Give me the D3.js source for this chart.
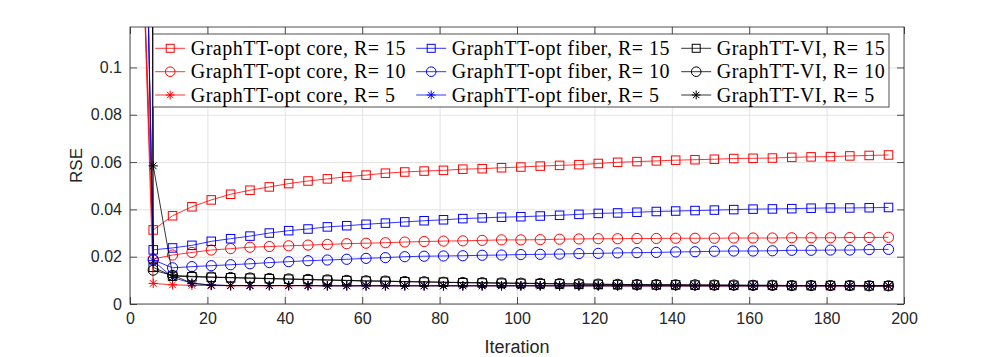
<!DOCTYPE html>
<html><head><meta charset="utf-8">
<script src="https://cdn.jsdelivr.net/npm/d3@7"></script>
<style>
html,body{margin:0;padding:0;background:#fff;}
svg{display:block;}
</style></head>
<body>
<svg id="chart" width="997" height="357"></svg>
<script>
// ---------- data ----------
const iterations = [1,6,11,16,21,26,31,36,41,46,51,56,61,66,71,76,81,86,91,96,101,106,111,116,121,126,131,136,141,146,151,156,161,166,171,176,181,186,191,196];

const coreR15 = [0.25,
 0.0313,0.0373,0.0411,0.0440,0.0464,0.0481,0.0495,0.0509,0.0520,
 0.0529,0.0538,0.0545,0.0553,0.0558,0.0562,0.0565,0.0570,0.0572,0.0576,0.0579,0.0583,0.0586,0.0589,0.0594,
 0.0599,0.0602,0.0605,0.0608,0.0610,0.0612,0.0615,0.0616,0.0617,0.0620,0.0622,0.0623,0.0626,0.0628,0.0630];
const coreR10 = [0.26,
 0.0190,0.0207,0.0218,0.0228,0.0234,0.0240,0.0243,0.0246,0.0249,
 0.0252,0.0255,0.0257,0.0259,0.0262,0.0264,0.0266,0.0267,0.0269,0.0271,0.0271,0.0272,0.0274,0.0275,0.0276,
 0.0276,0.0277,0.0277,0.0278,0.0278,0.0278,0.0279,0.0279,0.0279,0.0280,0.0280,0.0280,0.0281,0.0281,0.0282];
const coreR5 = [0.27,
 0.0087,0.0081,0.0079,0.0078,0.0077,0.0077,0.0077,0.0077,0.0077,
 0.0077,0.0077,0.0077,0.0077,0.0077,0.0077,0.0077,0.0077,0.0077,0.0077,0.0077,0.0077,0.0077,0.0077,0.0077,
 0.0076,0.0076,0.0076,0.0076,0.0076,0.0076,0.0076,0.0076,0.0076,0.0076,0.0076,0.0076,0.0076,0.0076,0.0076];

const fiberR15 = [0.40,
 0.0229,0.0237,0.0248,0.0265,0.0276,0.0287,0.0300,0.0310,0.0317,
 0.0326,0.0331,0.0337,0.0342,0.0347,0.0352,0.0356,0.0361,0.0364,0.0367,0.0369,0.0372,0.0375,0.0379,0.0383,
 0.0385,0.0388,0.0391,0.0393,0.0395,0.0397,0.0399,0.0401,0.0402,0.0403,0.0405,0.0406,0.0406,0.0407,0.0408];
const fiberR10 = [0.42,
 0.0186,0.0153,0.0158,0.0162,0.0166,0.0170,0.0175,0.0179,0.0183,
 0.0186,0.0189,0.0193,0.0196,0.0200,0.0202,0.0203,0.0204,0.0206,0.0207,0.0209,0.0210,0.0211,0.0213,0.0214,
 0.0216,0.0217,0.0218,0.0220,0.0221,0.0223,0.0224,0.0224,0.0225,0.0227,0.0227,0.0228,0.0228,0.0230,0.0231];
const fiberR5 = [0.44,
 0.0183,0.0112,0.0088,0.0080,0.0078,0.0078,0.0078,0.0078,0.0078,
 0.0077,0.0077,0.0077,0.0077,0.0077,0.0077,0.0077,0.0077,0.0077,0.0077,0.0077,0.0077,0.0077,0.0077,0.0077,
 0.0077,0.0077,0.0077,0.0077,0.0077,0.0077,0.0077,0.0077,0.0077,0.0077,0.0077,0.0077,0.0077,0.0077,0.0077];

const viR15 = [3.0,
 0.0155,0.0118,0.0115,0.0113,0.0111,0.0109,0.0107,0.0105,0.0103,
 0.0101,0.0099,0.0097,0.0096,0.0094,0.0093,0.0092,0.0090,0.0089,0.0088,0.0087,0.0086,0.0085,0.0084,0.0083,
 0.0082,0.0082,0.0081,0.0081,0.0080,0.0080,0.0079,0.0079,0.0079,0.0078,0.0078,0.0078,0.0078,0.0077,0.0077];
const viR10 = [3.0,
 0.0143,0.0121,0.0117,0.0114,0.0112,0.0110,0.0108,0.0106,0.0104,
 0.0102,0.0100,0.0098,0.0097,0.0095,0.0094,0.0092,0.0091,0.0090,0.0089,0.0088,0.0087,0.0086,0.0085,0.0084,
 0.0083,0.0082,0.0082,0.0081,0.0081,0.0080,0.0080,0.0079,0.0079,0.0078,0.0078,0.0078,0.0078,0.0077,0.0077];
const viR5 = [3.0,
 0.0584,0.0123,0.0087,0.0080,0.0078,0.0078,0.0078,0.0078,0.0078,
 0.0077,0.0077,0.0077,0.0077,0.0077,0.0077,0.0077,0.0077,0.0077,0.0077,0.0077,0.0077,0.0077,0.0077,0.0077,
 0.0077,0.0077,0.0077,0.0077,0.0077,0.0077,0.0077,0.0077,0.0077,0.0077,0.0077,0.0077,0.0077,0.0077,0.0077];

const seriesNames = ["GraphTT-opt core, R= 15","GraphTT-opt core, R= 10","GraphTT-opt core, R= 5",
  "GraphTT-opt fiber, R= 15","GraphTT-opt fiber, R= 10","GraphTT-opt fiber, R= 5",
  "GraphTT-VI, R= 15","GraphTT-VI, R= 10","GraphTT-VI, R= 5"];
const seriesValues = [coreR15, coreR10, coreR5, fiberR15, fiberR10, fiberR5, viR15, viR10, viR5];
const seriesColors = ["#ff0000","#ff0000","#ff0000","#0000ff","#0000ff","#0000ff","#000000","#000000","#000000"];
const seriesMarkers = ["square","circle","star","square","circle","star","square","circle","star"];

const xTicks = [0,20,40,60,80,100,120,140,160,180,200];
const yTicks = [0,0.02,0.04,0.06,0.08,0.1];
const xLabel = "Iteration";
const yLabel = "RSE";

// ---------- layout ----------
const L = 130, R = 904, T = 27, B = 304;
const axisColor = "#262626";
const svg = d3.select("#chart");

const x = d3.scaleLinear().domain([0,200]).range([L,R]);
const y = d3.scaleLinear().domain([0,0.1171]).range([B,T]);

// grid
svg.append("g").attr("transform",`translate(0,${B})`)
  .call(d3.axisBottom(x).tickValues(xTicks).tickSize(-(B-T)).tickFormat(""))
  .call(g=>{g.select(".domain").remove(); g.selectAll("line").attr("stroke","#e3e3e3").attr("stroke-width",1);});
svg.append("g").attr("transform",`translate(${L},0)`)
  .call(d3.axisLeft(y).tickValues(yTicks).tickSize(-(R-L)).tickFormat(""))
  .call(g=>{g.select(".domain").remove(); g.selectAll("line").attr("stroke","#e3e3e3").attr("stroke-width",1);});

// clip
svg.append("defs").append("clipPath").attr("id","plotclip")
  .append("rect").attr("x",L).attr("y",T).attr("width",R-L).attr("height",B-T);

const plot = svg.append("g").attr("clip-path","url(#plotclip)");

function drawMarker(g, type, color, cx, cy, s){
  if(type==="square"){
    g.append("rect").attr("x",cx-s/2).attr("y",cy-s/2).attr("width",s).attr("height",s)
      .attr("fill","none").attr("stroke",color).attr("stroke-width",1);
  } else if(type==="circle"){
    g.append("circle").attr("cx",cx).attr("cy",cy).attr("r",s*0.6)
      .attr("fill","none").attr("stroke",color).attr("stroke-width",1);
  } else {
    const r = s*0.55, d = r*0.72;
    const p = `M${cx},${cy-r}L${cx},${cy+r}M${cx-r},${cy}L${cx+r},${cy}M${cx-d},${cy-d}L${cx+d},${cy+d}M${cx-d},${cy+d}L${cx+d},${cy-d}`;
    g.append("path").attr("d",p).attr("fill","none").attr("stroke",color).attr("stroke-width",1);
  }
}

const line = d3.line().x((d,i)=>x(iterations[i])).y(d=>y(d));
seriesValues.forEach((vals,k)=>{
  const g = plot.append("g");
  g.append("path").datum(vals).attr("d",line).attr("fill","none")
    .attr("stroke",seriesColors[k]).attr("stroke-width",0.8);
  vals.forEach((v,i)=>{ drawMarker(g, seriesMarkers[k], seriesColors[k], x(iterations[i]), y(v), 8.5); });
});

// axes
const fontTick = "'Liberation Sans', Arial, Helvetica, sans-serif";
const bx = svg.append("g").attr("transform",`translate(0,${B})`)
  .call(d3.axisBottom(x).tickValues(xTicks).tickSize(-7).tickSizeOuter(0).tickPadding(9).tickFormat(d3.format("d")));
const ly = svg.append("g").attr("transform",`translate(${L},0)`)
  .call(d3.axisLeft(y).tickValues(yTicks).tickSize(-7).tickSizeOuter(0).tickPadding(8).tickFormat(d=> d===0?"0":String(+d.toFixed(2))));
const tx = svg.append("g").attr("transform",`translate(0,${T})`)
  .call(d3.axisTop(x).tickValues(xTicks).tickSize(-7).tickSizeOuter(0).tickFormat(""));
const ry = svg.append("g").attr("transform",`translate(${R},0)`)
  .call(d3.axisRight(y).tickValues(yTicks).tickSize(-7).tickSizeOuter(0).tickFormat(""));
[bx,ly,tx,ry].forEach(g=>{
  g.select(".domain").remove();
  g.selectAll("line").attr("stroke",axisColor).attr("stroke-width",0.8);
  g.selectAll("text").attr("fill",axisColor).style("font-family",fontTick).style("font-size","16px");
});
svg.append("rect").attr("x",L).attr("y",T).attr("width",R-L).attr("height",B-T)
  .attr("fill","none").attr("stroke",axisColor).attr("stroke-width",0.8);

svg.append("text").attr("x",(L+R)/2).attr("y",353).attr("text-anchor","middle")
  .attr("fill",axisColor).style("font-family",fontTick).style("font-size","18px").text(xLabel);
svg.append("text").attr("transform",`translate(82,${(T+B)/2}) rotate(-90)`).attr("text-anchor","middle")
  .attr("fill",axisColor).style("font-family",fontTick).style("font-size","17px").text(yLabel);

// legend
const legX0 = 153, legY0 = 34, legX1 = 889, legY1 = 107;
svg.append("rect").attr("x",legX0).attr("y",legY0).attr("width",legX1-legX0).attr("height",legY1-legY0)
  .attr("fill","#fff").attr("stroke",axisColor).attr("stroke-width",0.8);
const colText = [190.7, 451.7, 716.7];
const rowY = [48.3, 71.7, 95];
seriesNames.forEach((name,k)=>{
  const c = Math.floor(k/3), r = k%3;
  const tx0 = colText[c], cy = rowY[r];
  const g = svg.append("g");
  g.append("line").attr("x1",tx0-35.5).attr("x2",tx0-5.5).attr("y1",cy).attr("y2",cy)
    .attr("stroke",seriesColors[k]).attr("stroke-width",0.8);
  drawMarker(g, seriesMarkers[k], seriesColors[k], tx0-20.5, cy, 8);
  g.append("text").attr("x",tx0).attr("y",cy+6.5).attr("fill","#000")
    .style("font-family","'Liberation Serif','Times New Roman',serif").style("font-size","20px")
    .style("letter-spacing","0.5px").text(name);
});
</script>
</body></html>
